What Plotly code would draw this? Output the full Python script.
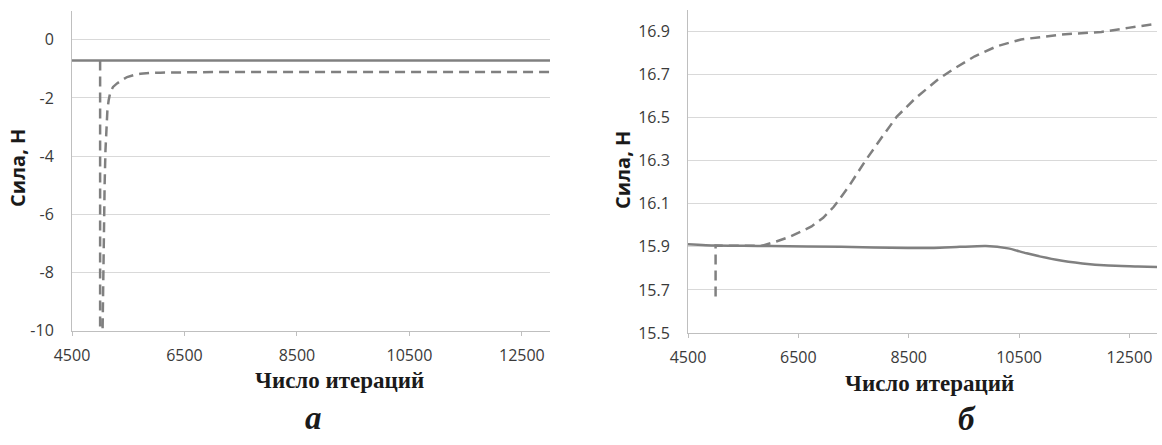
import plotly.graph_objects as go

# ---- data ----
# panel a
a_solid_x = [4500, 6500, 8500, 10500, 12500, 13000]
a_solid_y = [-0.71, -0.71, -0.71, -0.71, -0.71, -0.71]
a_dash_x = [5000, 5000, 5040, 5060, 5080, 5095, 5110, 5130, 5152, 5182, 5230, 5301,
            5400, 5480, 5600, 5716, 5900, 6072, 7000, 9000, 11000, 13000]
a_dash_y = [-0.71, -10.5, -10.5, -7.0, -5.0, -3.8, -2.9, -2.4, -2.08, -1.8, -1.62, -1.5,
            -1.37, -1.28, -1.21, -1.17, -1.14, -1.13, -1.11, -1.11, -1.11, -1.11]
# panel b
b_solid_x = [4500, 5000, 5500, 6000, 7276, 8485, 8957, 9428, 9898, 10301, 10638,
             11176, 11647, 12117, 12655, 13000]
b_solid_y = [15.912, 15.906, 15.905, 15.904, 15.900, 15.895, 15.895, 15.900, 15.904,
             15.893, 15.870, 15.840, 15.823, 15.813, 15.809, 15.806]
b_dash_x = [5000, 5000, 5500, 5840, 6100, 6335, 6539, 6739, 6950, 7142, 7411, 7714,
            8016, 8285, 8621, 9024, 9293, 9697, 10100, 10536, 11264, 11991, 12476, 13000]
b_dash_y = [15.67, 15.906, 15.905, 15.905, 15.925, 15.946, 15.97, 15.995, 16.035,
            16.086, 16.179, 16.30, 16.41, 16.505, 16.59, 16.676, 16.723, 16.785,
            16.832, 16.863, 16.886, 16.898, 16.917, 16.936]

x_ticks = [4500, 6500, 8500, 10500, 12500]
a_y_ticks = [0, -2, -4, -6, -8, -10]
b_y_ticks = [15.5, 15.7, 15.9, 16.1, 16.3, 16.5, 16.7, 16.9]

x_title = "Число итераций"
y_title = "Сила, Н"
panel_labels = ["а", "б"]

LINE = "#808080"
GRID = "#d9d9d9"
AXIS = "#bfbfbf"
TICKFONT = dict(family="Open Sans", size=16, color="#3a3a3a")
DASH = "10px,6px"

fig = go.Figure()
fig.add_trace(go.Scatter(x=a_solid_x, y=a_solid_y, mode="lines",
                         line=dict(color=LINE, width=2.5), xaxis="x", yaxis="y"))
fig.add_trace(go.Scatter(x=a_dash_x, y=a_dash_y, mode="lines",
                         line=dict(color=LINE, width=2.5, dash=DASH), xaxis="x", yaxis="y"))
fig.add_trace(go.Scatter(x=b_solid_x, y=b_solid_y, mode="lines", line_shape="spline",
                         line=dict(color=LINE, width=2.5, smoothing=0.6), xaxis="x2", yaxis="y2"))
fig.add_trace(go.Scatter(x=b_dash_x, y=b_dash_y, mode="lines",
                         line=dict(color=LINE, width=2.5, dash=DASH),
                         xaxis="x2", yaxis="y2"))

W, H = 1162, 445

def xd(px0, px1):
    return [px0 / W, px1 / W]

def yd(top, bottom):
    return [(H - bottom) / H, (H - top) / H]

xcommon = dict(tickvals=x_ticks, ticktext=[str(v) for v in x_ticks], showgrid=False,
               zeroline=False, showline=True, linecolor=AXIS, linewidth=1,
               ticks="outside", ticklen=4, tickcolor=AXIS, tickfont=TICKFONT,
               ticklabelstandoff=6, range=[4500, 13000], automargin=False)
ycommon = dict(showgrid=True, gridcolor=GRID, gridwidth=1, zeroline=False,
               showline=True, linecolor=AXIS, linewidth=1, ticks="",
               tickfont=TICKFONT, ticklabelstandoff=14, automargin=False)

fig.update_layout(
    width=W, height=H, showlegend=False,
    margin=dict(l=0, r=0, t=0, b=0, autoexpand=False),
    paper_bgcolor="white", plot_bgcolor="white",
    xaxis=dict(domain=xd(72, 550), anchor="y", **xcommon),
    yaxis=dict(domain=yd(10.7, 330.7), anchor="x", range=[-10, 1],
               tickvals=a_y_ticks, ticktext=[str(v) for v in a_y_ticks], **ycommon),
    xaxis2=dict(domain=xd(688, 1157), anchor="y2", **xcommon),
    yaxis2=dict(domain=yd(10, 333), anchor="x2", range=[15.5, 17.0],
                tickvals=b_y_ticks, ticktext=[f"{v:.1f}" for v in b_y_ticks], **ycommon),
)

ann = []
for cx, cy in [(339, 380), (929, 383)]:
    ann.append(dict(x=cx / W, y=(H - cy) / H, xref="paper", yref="paper", text=f"<b>{x_title}</b>",
                    showarrow=False, xanchor="center", yanchor="middle",
                    font=dict(family="Liberation Serif", size=23, color="#1a1a1a")))
for cx, cy in [(18, 168), (622, 170)]:
    ann.append(dict(x=cx / W, y=(H - cy) / H, xref="paper", yref="paper", text=f"<b>{y_title}</b>",
                    showarrow=False, xanchor="center", yanchor="middle", textangle=-90,
                    font=dict(family="Open Sans", size=20, color="#1a1a1a")))
for (cx, cy), lab in zip([(313, 418), (967, 419)], panel_labels):
    ann.append(dict(x=cx / W, y=(H - cy) / H, xref="paper", yref="paper", text=f"<b><i>{lab}</i></b>",
                    showarrow=False, xanchor="center", yanchor="middle",
                    font=dict(family="Liberation Serif", size=33, color="#1a1a1a")))
fig.update_layout(annotations=ann)

fig.write_html("out.html", config={"displayModeBar": False},
               post_script="document.body.style.margin='0';")
